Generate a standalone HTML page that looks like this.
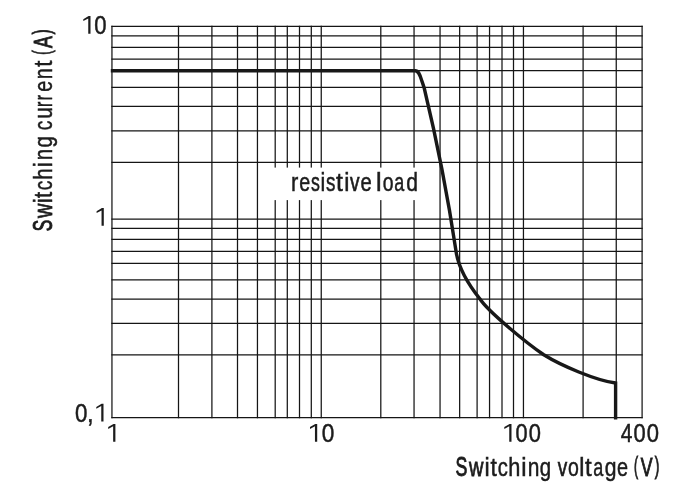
<!DOCTYPE html>
<html><head><meta charset="utf-8"><title>Chart</title>
<style>
html,body{margin:0;padding:0;background:#fff;}
body{width:697px;height:496px;overflow:hidden;}
svg{display:block;will-change:transform;}
text{font-family:"Liberation Sans",sans-serif;font-size:25.6px;fill:#1c1c1c;stroke:#1c1c1c;stroke-width:0.5px;}
</style></head><body>
<svg width="697" height="496" viewBox="0 0 697 496">
<rect width="697" height="496" fill="#fff"/>
<g stroke="#151515" stroke-width="1.25" fill="none">
<line x1="111.35" y1="26.45" x2="642.70" y2="26.45"/>
<line x1="111.35" y1="35.9" x2="642.70" y2="35.9"/>
<line x1="111.35" y1="47.4" x2="642.70" y2="47.4"/>
<line x1="111.35" y1="59.0" x2="642.70" y2="59.0"/>
<line x1="111.35" y1="70.7" x2="642.70" y2="70.7"/>
<line x1="111.35" y1="87.45" x2="642.70" y2="87.45"/>
<line x1="111.35" y1="106.4" x2="642.70" y2="106.4"/>
<line x1="111.35" y1="130.85" x2="642.70" y2="130.85"/>
<line x1="111.35" y1="162.4" x2="642.70" y2="162.4"/>
<line x1="111.35" y1="219.1" x2="642.70" y2="219.1"/>
<line x1="111.35" y1="228.45" x2="642.70" y2="228.45"/>
<line x1="111.35" y1="239.45" x2="642.70" y2="239.45"/>
<line x1="111.35" y1="251.3" x2="642.70" y2="251.3"/>
<line x1="111.35" y1="263.3" x2="642.70" y2="263.3"/>
<line x1="111.35" y1="279.8" x2="642.70" y2="279.8"/>
<line x1="111.35" y1="299.0" x2="642.70" y2="299.0"/>
<line x1="111.35" y1="323.35" x2="642.70" y2="323.35"/>
<line x1="111.35" y1="354.75" x2="642.70" y2="354.75"/>
<line x1="111.35" y1="417.7" x2="642.70" y2="417.7"/>
<line x1="111.95" y1="25.85" x2="111.95" y2="418.30"/>
<line x1="178.5" y1="25.85" x2="178.5" y2="418.30"/>
<line x1="211.9" y1="25.85" x2="211.9" y2="418.30"/>
<line x1="237.5" y1="25.85" x2="237.5" y2="418.30"/>
<line x1="257.45" y1="25.85" x2="257.45" y2="418.30"/>
<line x1="275.2" y1="25.85" x2="275.2" y2="418.30"/>
<line x1="287.3" y1="25.85" x2="287.3" y2="418.30"/>
<line x1="299.5" y1="25.85" x2="299.5" y2="418.30"/>
<line x1="311.3" y1="25.85" x2="311.3" y2="418.30"/>
<line x1="321.25" y1="25.85" x2="321.25" y2="418.30"/>
<line x1="380.8" y1="25.85" x2="380.8" y2="418.30"/>
<line x1="414.05" y1="25.85" x2="414.05" y2="418.30"/>
<line x1="440.05" y1="25.85" x2="440.05" y2="418.30"/>
<line x1="459.65" y1="25.85" x2="459.65" y2="418.30"/>
<line x1="477.1" y1="25.85" x2="477.1" y2="418.30"/>
<line x1="489.55" y1="25.85" x2="489.55" y2="418.30"/>
<line x1="502.0" y1="25.85" x2="502.0" y2="418.30"/>
<line x1="513.5" y1="25.85" x2="513.5" y2="418.30"/>
<line x1="523.45" y1="25.85" x2="523.45" y2="418.30"/>
<line x1="583.1" y1="25.85" x2="583.1" y2="418.30"/>
<line x1="616.25" y1="25.85" x2="616.25" y2="418.30"/>
<line x1="642.1" y1="25.85" x2="642.1" y2="418.30"/>
</g>
<rect x="266" y="167.6" width="156" height="32.5" fill="#fff"/>
<path d="M110.8,70.7 L415.2,70.7 C418.4,70.7 419.7,74.5 421.2,79 C422.4,82.5 423.3,85 424.2,88 C437,141 447.8,196 456,251 C458.5,269.5 471.6,288.5 479.8,298.75 C488.5,312 527,343.3 543.75,354.75 C561,365.5 596,380.5 615.6,383.0" fill="none" stroke="#181818" stroke-width="3.4" stroke-linejoin="round"/>
<line x1="615.6" y1="381.5" x2="615.6" y2="419.5" stroke="#181818" stroke-width="3.4"/>
<text transform="translate(455.56,475.90) scale(0.6938,1.05)" style="stroke-width:0.9px;">S</text>
<text transform="translate(469.04,475.90) scale(0.7789,1)" style="stroke-width:0.8px;">w</text>
<text transform="translate(484.47,475.90) scale(0.9091,1)">i</text>
<text transform="translate(490.48,475.90) scale(0.8952,1)">t</text>
<text transform="translate(497.74,475.90) scale(0.7887,1)">c</text>
<text transform="translate(508.20,475.90) scale(0.8496,1)">h</text>
<text transform="translate(521.29,475.90) scale(0.9273,1)">i</text>
<text transform="translate(527.81,475.90) scale(0.8176,1)">n</text>
<text transform="translate(539.84,475.90) scale(0.7992,1)">g</text>
<text transform="translate(557.64,475.90) scale(0.7392,1)" style="stroke-width:0.7px;">v</text>
<text transform="translate(567.97,475.90) scale(0.7627,1)">o</text>
<text transform="translate(579.36,475.90) scale(0.9091,1)">l</text>
<text transform="translate(585.07,475.90) scale(0.9378,1)">t</text>
<text transform="translate(593.21,475.90) scale(0.7033,1)">a</text>
<text transform="translate(604.72,475.90) scale(0.8241,1)">g</text>
<text transform="translate(617.05,475.90) scale(0.7752,1)">e</text>
<text transform="translate(640.77,475.90) scale(0.6891,1.02)" style="stroke-width:1.0px;">V</text>
<text transform="translate(633.99,473.87) scale(0.5193,1)" style="stroke-width:1.0px;font-size:23.83px;">(</text>
<text transform="translate(654.71,473.87) scale(0.5739,1)" style="stroke-width:1.0px;font-size:23.83px;">)</text>
<text transform="translate(52.00,231.18) rotate(-90) scale(0.6747,1.05)" style="stroke-width:0.9px;">S</text>
<text transform="translate(52.00,217.96) rotate(-90) scale(0.7789,1)" style="stroke-width:0.8px;">w</text>
<text transform="translate(52.00,203.28) rotate(-90) scale(0.8727,1)">i</text>
<text transform="translate(52.00,197.92) rotate(-90) scale(0.8668,1)">t</text>
<text transform="translate(52.00,190.13) rotate(-90) scale(0.7541,1)">c</text>
<text transform="translate(52.00,179.63) rotate(-90) scale(0.8053,1)">h</text>
<text transform="translate(52.00,167.35) rotate(-90) scale(0.8909,1)">i</text>
<text transform="translate(52.00,160.15) rotate(-90) scale(0.7956,1)">n</text>
<text transform="translate(52.00,147.56) rotate(-90) scale(0.8033,1)">g</text>
<text transform="translate(52.00,130.13) rotate(-90) scale(0.7541,1)">c</text>
<text transform="translate(52.00,118.84) rotate(-90) scale(0.8088,1)">u</text>
<text transform="translate(52.00,106.99) rotate(-90) scale(0.6159,1)">r</text>
<text transform="translate(52.00,100.33) rotate(-90) scale(0.6087,1)">r</text>
<text transform="translate(52.00,91.84) rotate(-90) scale(0.7592,1)">e</text>
<text transform="translate(52.00,79.33) rotate(-90) scale(0.7780,1)">n</text>
<text transform="translate(52.00,66.72) rotate(-90) scale(0.8668,1)">t</text>
<text transform="translate(52.00,47.89) rotate(-90) scale(0.6954,1.02)" style="stroke-width:1.0px;">A</text>
<text transform="translate(50.07,54.85) rotate(-90) scale(0.5602,1)" style="stroke-width:1.0px;font-size:23.83px;">(</text>
<text transform="translate(50.07,34.28) rotate(-90) scale(0.6012,1)" style="stroke-width:1.0px;font-size:23.83px;">)</text>
<text transform="translate(290.96,190.55) scale(0.8551,1)">r</text>
<text transform="translate(299.26,190.55) scale(0.7672,1)">e</text>
<text transform="translate(311.08,190.55) scale(0.6945,1)">s</text>
<text transform="translate(320.58,190.55) scale(0.8364,1)">i</text>
<text transform="translate(325.96,190.55) scale(0.7374,1)">s</text>
<text transform="translate(336.07,190.55) scale(0.9663,1)">t</text>
<text transform="translate(344.37,190.55) scale(0.9091,1)">i</text>
<text transform="translate(349.90,190.55) scale(0.7430,1)" style="stroke-width:0.7px;">v</text>
<text transform="translate(360.44,190.55) scale(0.7912,1)">e</text>
<text transform="translate(376.05,190.55) scale(0.9818,1)">l</text>
<text transform="translate(382.67,190.55) scale(0.7587,1)">o</text>
<text transform="translate(394.31,190.55) scale(0.6996,1)">a</text>
<text transform="translate(406.32,190.55) scale(0.8241,1)">d</text>
<text transform="translate(94.25,33.80) scale(0.8636,1)">0</text>
<text transform="translate(75.05,421.50) scale(0.8714,1)">0</text>
<text transform="translate(87.09,421.50) scale(0.9295,1)">,</text>
<text transform="translate(321.84,441.70) scale(0.8832,1)">0</text>
<text transform="translate(515.46,441.70) scale(0.8479,1)">0</text>
<text transform="translate(528.66,441.70) scale(0.8557,1)">0</text>
<text transform="translate(620.72,441.70) scale(0.8209,1)">4</text>
<text transform="translate(633.56,441.70) scale(0.8557,1)">0</text>
<text transform="translate(646.66,441.70) scale(0.8597,1)">0</text>
<path transform="translate(83.3,33.8)" d="M7.2,0 L7.2,-17.8 L5.3,-17.8 L0,-14.6 L0,-12.7 L4.95,-15.4 L4.95,0 Z" fill="#1c1c1c"/>
<path transform="translate(96.6,225.8)" d="M7.2,0 L7.2,-17.8 L5.3,-17.8 L0,-14.6 L0,-12.7 L4.95,-15.4 L4.95,0 Z" fill="#1c1c1c"/>
<path transform="translate(96.3,421.5)" d="M7.2,0 L7.2,-17.8 L5.3,-17.8 L0,-14.6 L0,-12.7 L4.95,-15.4 L4.95,0 Z" fill="#1c1c1c"/>
<path transform="translate(108.2,441.7)" d="M7.2,0 L7.2,-17.8 L5.3,-17.8 L0,-14.6 L0,-12.7 L4.95,-15.4 L4.95,0 Z" fill="#1c1c1c"/>
<path transform="translate(310.0,441.7)" d="M7.2,0 L7.2,-17.8 L5.3,-17.8 L0,-14.6 L0,-12.7 L4.95,-15.4 L4.95,0 Z" fill="#1c1c1c"/>
<path transform="translate(504.3,441.7)" d="M7.2,0 L7.2,-17.8 L5.3,-17.8 L0,-14.6 L0,-12.7 L4.95,-15.4 L4.95,0 Z" fill="#1c1c1c"/>
</svg>
</body></html>
